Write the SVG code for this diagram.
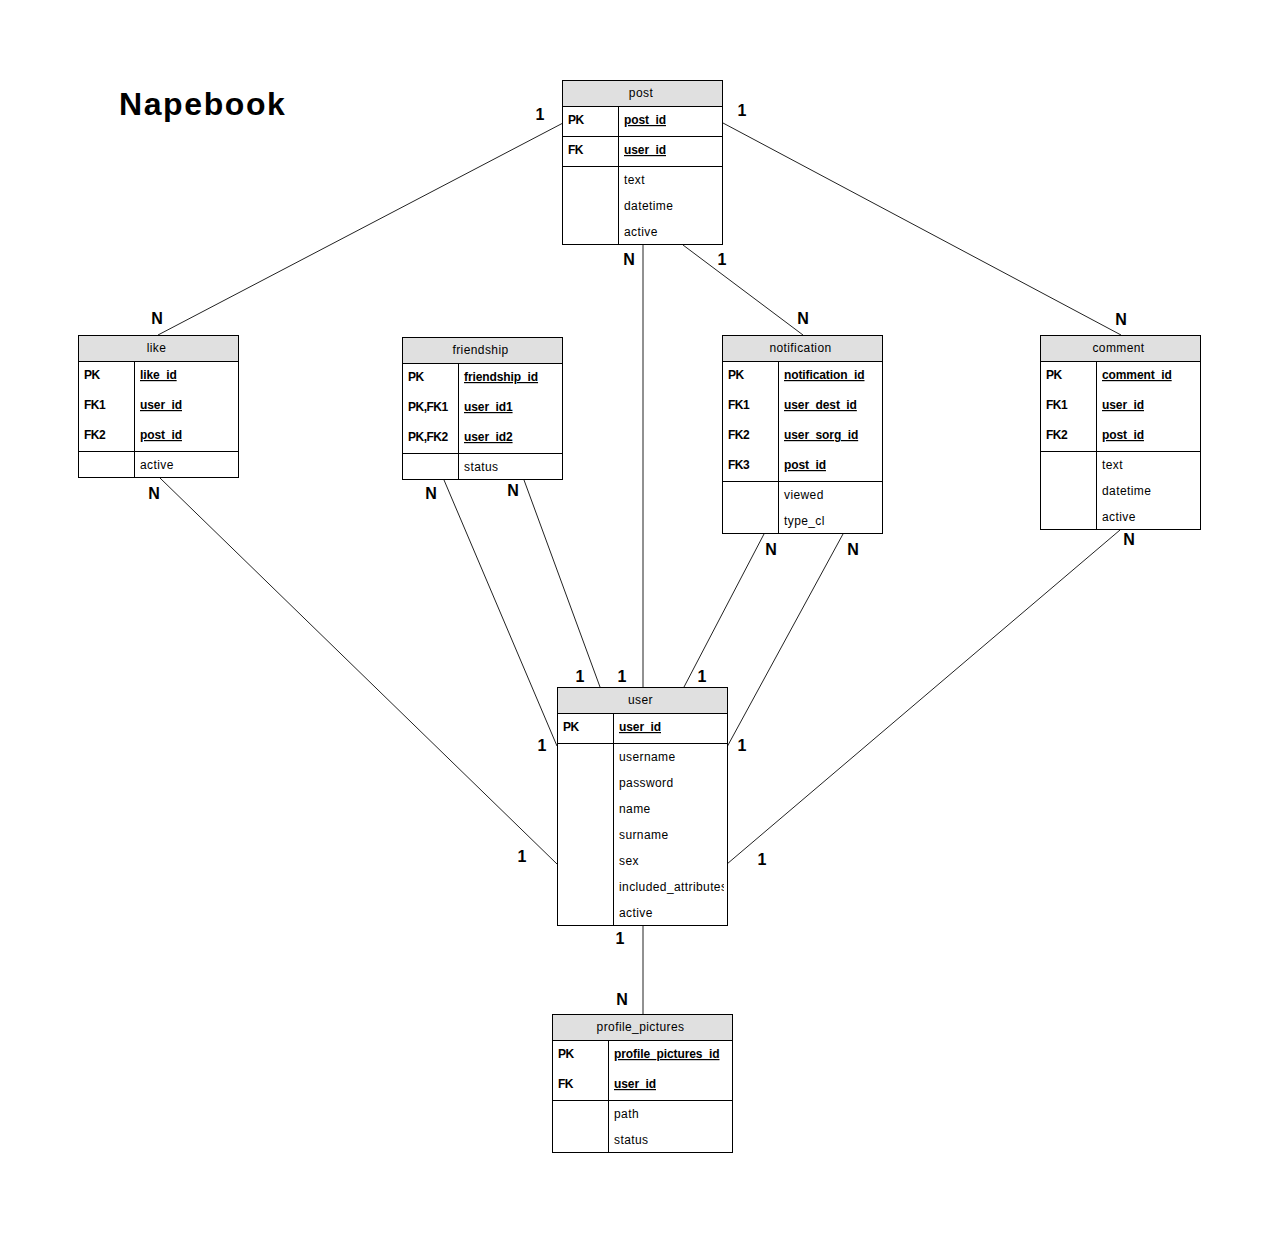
<svg xmlns="http://www.w3.org/2000/svg" width="1283" height="1242" viewBox="0 0 1283 1242">
<style>
.t{font-family:"Liberation Sans",Arial,sans-serif;font-size:12px;letter-spacing:0.4px;fill:#000}
.h{text-anchor:middle}
.k{font-weight:bold;font-size:12px;letter-spacing:-0.5px}
.u{font-weight:bold;text-decoration:underline;letter-spacing:-0.1px}
.box{fill:#fff;stroke:#000;stroke-width:1}
.hd{fill:#e0e0e0;stroke:#000;stroke-width:1}
.ln{stroke:#000;stroke-width:1;fill:none}
.c{stroke:#222;stroke-width:1;fill:none}
.lb{font-family:"Liberation Sans",Arial,sans-serif;font-size:16px;font-weight:bold;text-anchor:middle;fill:#000}
.title{font-family:"Liberation Sans",Arial,sans-serif;font-size:32px;font-weight:bold;letter-spacing:1.6px;fill:#000}
</style>
<defs>
<clipPath id="userclip"><rect x="557" y="687" width="167" height="240"/></clipPath>
</defs>
<rect width="1283" height="1242" fill="#fff"/>
<text class="title" x="119" y="115">Napebook</text>

<g id="connectors">
<line class="c" x1="563" y1="123" x2="158" y2="335"/>
<line class="c" x1="723" y1="123" x2="1121" y2="335"/>
<line class="c" x1="643" y1="245" x2="643" y2="687"/>
<line class="c" x1="683" y1="245" x2="803" y2="335"/>
<line class="c" x1="160" y1="478" x2="557" y2="864"/>
<line class="c" x1="444" y1="480" x2="557" y2="746"/>
<line class="c" x1="524" y1="480" x2="600" y2="687"/>
<line class="c" x1="764" y1="534" x2="684" y2="687"/>
<line class="c" x1="843" y1="534" x2="727" y2="747"/>
<line class="c" x1="1120" y1="530" x2="727" y2="864"/>
<line class="c" x1="643" y1="926" x2="643" y2="1014"/>
</g>

<g id="labels">
<text class="lb" x="540" y="120">1</text>
<text class="lb" x="742" y="116">1</text>
<text class="lb" x="629" y="265">N</text>
<text class="lb" x="722" y="265">1</text>
<text class="lb" x="803" y="324">N</text>
<text class="lb" x="157" y="324">N</text>
<text class="lb" x="1121" y="325">N</text>
<text class="lb" x="154" y="499">N</text>
<text class="lb" x="431" y="499">N</text>
<text class="lb" x="513" y="496">N</text>
<text class="lb" x="771" y="555">N</text>
<text class="lb" x="853" y="555">N</text>
<text class="lb" x="1129" y="545">N</text>
<text class="lb" x="580" y="682">1</text>
<text class="lb" x="622" y="682">1</text>
<text class="lb" x="702" y="682">1</text>
<text class="lb" x="542" y="751">1</text>
<text class="lb" x="742" y="751">1</text>
<text class="lb" x="522" y="862">1</text>
<text class="lb" x="762" y="865">1</text>
<text class="lb" x="620" y="944">1</text>
<text class="lb" x="622" y="1005">N</text>
</g>

<g id="post">
<rect class="box" x="562.5" y="80.5" width="160" height="164"/>
<rect class="hd" x="562.5" y="80.5" width="160" height="26"/>
<line class="ln" x1="562.5" y1="136.5" x2="722.5" y2="136.5"/>
<line class="ln" x1="562.5" y1="166.5" x2="722.5" y2="166.5"/>
<line class="ln" x1="618.5" y1="106.5" x2="618.5" y2="244.5"/>
<text class="t h" x="641" y="97">post</text>
<text class="t k" x="568" y="124">PK</text>
<text class="t u" x="624" y="124">post_id</text>
<text class="t k" x="568" y="154">FK</text>
<text class="t u" x="624" y="154">user_id</text>
<text class="t" x="624" y="184">text</text>
<text class="t" x="624" y="210">datetime</text>
<text class="t" x="624" y="236">active</text>
</g>

<g id="like">
<rect class="box" x="78.5" y="335.5" width="160" height="142"/>
<rect class="hd" x="78.5" y="335.5" width="160" height="26"/>
<line class="ln" x1="78.5" y1="451.5" x2="238.5" y2="451.5"/>
<line class="ln" x1="134.5" y1="361.5" x2="134.5" y2="477.5"/>
<text class="t h" x="156.5" y="352">like</text>
<text class="t k" x="84" y="379">PK</text>
<text class="t u" x="140" y="379">like_id</text>
<text class="t k" x="84" y="409">FK1</text>
<text class="t u" x="140" y="409">user_id</text>
<text class="t k" x="84" y="439">FK2</text>
<text class="t u" x="140" y="439">post_id</text>
<text class="t" x="140" y="469">active</text>
</g>

<g id="friendship">
<rect class="box" x="402.5" y="337.5" width="160" height="142"/>
<rect class="hd" x="402.5" y="337.5" width="160" height="26"/>
<line class="ln" x1="402.5" y1="453.5" x2="562.5" y2="453.5"/>
<line class="ln" x1="458.5" y1="363.5" x2="458.5" y2="479.5"/>
<text class="t h" x="480.5" y="354">friendship</text>
<text class="t k" x="408" y="381">PK</text>
<text class="t u" x="464" y="381">friendship_id</text>
<text class="t k" x="408" y="411">PK,FK1</text>
<text class="t u" x="464" y="411">user_id1</text>
<text class="t k" x="408" y="441">PK,FK2</text>
<text class="t u" x="464" y="441">user_id2</text>
<text class="t" x="464" y="471">status</text>
</g>

<g id="notification">
<rect class="box" x="722.5" y="335.5" width="160" height="198"/>
<rect class="hd" x="722.5" y="335.5" width="160" height="26"/>
<line class="ln" x1="722.5" y1="481.5" x2="882.5" y2="481.5"/>
<line class="ln" x1="778.5" y1="361.5" x2="778.5" y2="533.5"/>
<text class="t h" x="800.5" y="352">notification</text>
<text class="t k" x="728" y="379">PK</text>
<text class="t u" x="784" y="379">notification_id</text>
<text class="t k" x="728" y="409">FK1</text>
<text class="t u" x="784" y="409">user_dest_id</text>
<text class="t k" x="728" y="439">FK2</text>
<text class="t u" x="784" y="439">user_sorg_id</text>
<text class="t k" x="728" y="469">FK3</text>
<text class="t u" x="784" y="469">post_id</text>
<text class="t" x="784" y="499">viewed</text>
<text class="t" x="784" y="525">type_cl</text>
</g>

<g id="comment">
<rect class="box" x="1040.5" y="335.5" width="160" height="194"/>
<rect class="hd" x="1040.5" y="335.5" width="160" height="26"/>
<line class="ln" x1="1040.5" y1="451.5" x2="1200.5" y2="451.5"/>
<line class="ln" x1="1096.5" y1="361.5" x2="1096.5" y2="529.5"/>
<text class="t h" x="1118.5" y="352">comment</text>
<text class="t k" x="1046" y="379">PK</text>
<text class="t u" x="1102" y="379">comment_id</text>
<text class="t k" x="1046" y="409">FK1</text>
<text class="t u" x="1102" y="409">user_id</text>
<text class="t k" x="1046" y="439">FK2</text>
<text class="t u" x="1102" y="439">post_id</text>
<text class="t" x="1102" y="469">text</text>
<text class="t" x="1102" y="495">datetime</text>
<text class="t" x="1102" y="521">active</text>
</g>

<g id="user">
<rect class="box" x="557.5" y="687.5" width="170" height="238"/>
<rect class="hd" x="557.5" y="687.5" width="170" height="26"/>
<line class="ln" x1="557.5" y1="743.5" x2="727.5" y2="743.5"/>
<line class="ln" x1="613.5" y1="713.5" x2="613.5" y2="925.5"/>
<text class="t h" x="640.5" y="704">user</text>
<text class="t k" x="563" y="731">PK</text>
<text class="t u" x="619" y="731">user_id</text>
<g clip-path="url(#userclip)">
<text class="t" x="619" y="761">username</text>
<text class="t" x="619" y="787">password</text>
<text class="t" x="619" y="813">name</text>
<text class="t" x="619" y="839">surname</text>
<text class="t" x="619" y="865">sex</text>
<text class="t" x="619" y="891">included_attributes</text>
<text class="t" x="619" y="917">active</text>
</g>
</g>

<g id="profile_pictures">
<rect class="box" x="552.5" y="1014.5" width="180" height="138"/>
<rect class="hd" x="552.5" y="1014.5" width="180" height="26"/>
<line class="ln" x1="552.5" y1="1100.5" x2="732.5" y2="1100.5"/>
<line class="ln" x1="608.5" y1="1040.5" x2="608.5" y2="1152.5"/>
<text class="t h" x="640.5" y="1031">profile_pictures</text>
<text class="t k" x="558" y="1058">PK</text>
<text class="t u" x="614" y="1058">profile_pictures_id</text>
<text class="t k" x="558" y="1088">FK</text>
<text class="t u" x="614" y="1088">user_id</text>
<text class="t" x="614" y="1118">path</text>
<text class="t" x="614" y="1144">status</text>
</g>
</svg>
